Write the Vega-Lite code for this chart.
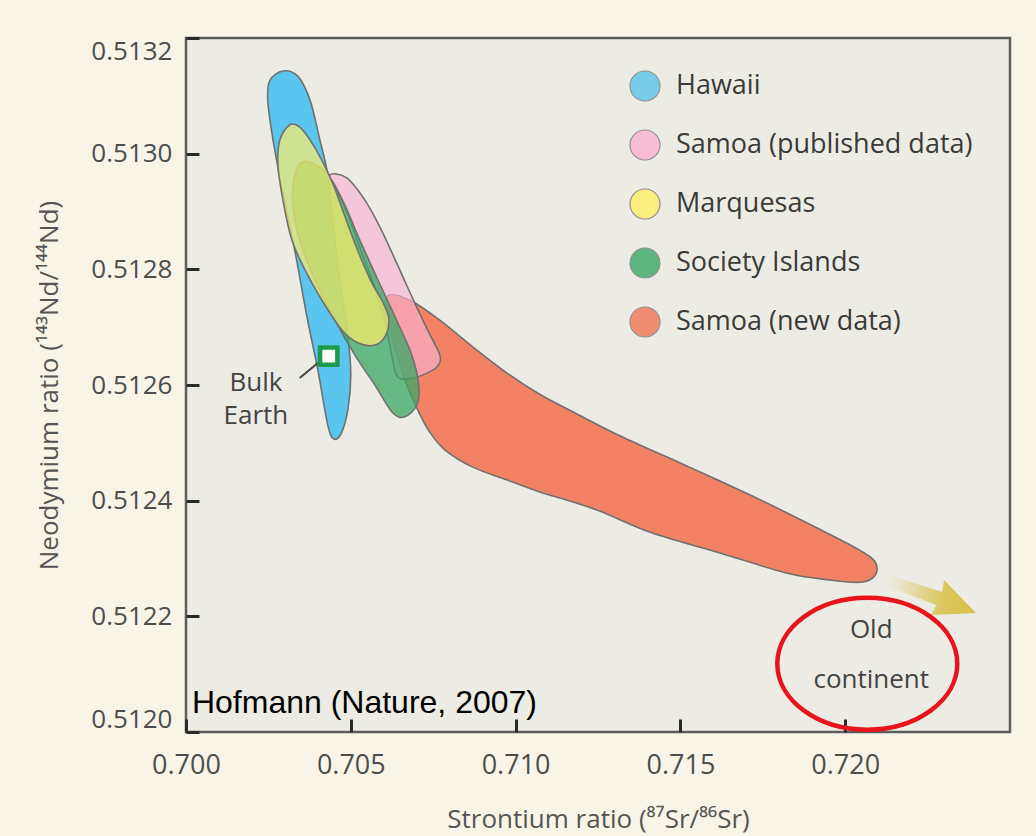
{
  "$schema": "https://vega.github.io/schema/vega-lite/v6.json",
  "width": 824,
  "height": 694,
  "autosize": {"type": "none"},
  "padding": {"left": 186, "top": 38, "right": 26, "bottom": 104},
  "background": "#f8f5e8",
  "config": {
    "view": {"fill": "#edece4", "stroke": "#5c5c5c", "strokeWidth": 2.5},
    "font": "Open Sans",
    "axis": {
      "grid": false,
      "domain": false,
      "tickSize": -13,
      "tickWidth": 3,
      "tickColor": "#2a2a2a",
      "labelFont": "Open Sans",
      "labelColor": "#4d4d4d",
      "labelOverlap": false,
      "titleFont": "Open Sans",
      "titleFontSize": 26,
      "titleFontWeight": "normal",
      "titleColor": "#555555"
    },
    "legend": {
      "orient": "none",
      "legendX": 443,
      "legendY": 32,
      "padding": 0,
      "symbolType": "circle",
      "symbolSize": 900,
      "symbolStrokeColor": "#7a7a7a",
      "symbolStrokeWidth": 1.2,
      "symbolOpacity": 0.8,
      "labelFont": "Open Sans",
      "labelFontSize": 27,
      "labelColor": "#3a3a3a",
      "labelOffset": 15,
      "rowPadding": 23,
      "labelLimit": 400
    }
  },
  "layer": [
    {
      "data": {"values": [
        {"region": "Hawaii", "i": 1, "sr": 0.70294, "nd": 0.513143},
        {"region": "Hawaii", "i": 2, "sr": 0.70339, "nd": 0.513134},
        {"region": "Hawaii", "i": 3, "sr": 0.70376, "nd": 0.513093},
        {"region": "Hawaii", "i": 4, "sr": 0.70406, "nd": 0.513024},
        {"region": "Hawaii", "i": 5, "sr": 0.70430, "nd": 0.512963},
        {"region": "Hawaii", "i": 6, "sr": 0.70448, "nd": 0.512868},
        {"region": "Hawaii", "i": 7, "sr": 0.70470, "nd": 0.512764},
        {"region": "Hawaii", "i": 8, "sr": 0.70491, "nd": 0.512686},
        {"region": "Hawaii", "i": 9, "sr": 0.70500, "nd": 0.512617},
        {"region": "Hawaii", "i": 10, "sr": 0.70491, "nd": 0.512557},
        {"region": "Hawaii", "i": 11, "sr": 0.70470, "nd": 0.512515},
        {"region": "Hawaii", "i": 12, "sr": 0.70448, "nd": 0.512507},
        {"region": "Hawaii", "i": 13, "sr": 0.70430, "nd": 0.512531},
        {"region": "Hawaii", "i": 14, "sr": 0.70400, "nd": 0.512626},
        {"region": "Hawaii", "i": 15, "sr": 0.70367, "nd": 0.512718},
        {"region": "Hawaii", "i": 16, "sr": 0.70330, "nd": 0.512833},
        {"region": "Hawaii", "i": 17, "sr": 0.70294, "nd": 0.512932},
        {"region": "Hawaii", "i": 18, "sr": 0.70264, "nd": 0.513024},
        {"region": "Hawaii", "i": 19, "sr": 0.70248, "nd": 0.513093},
        {"region": "Hawaii", "i": 20, "sr": 0.70255, "nd": 0.513127}
      ]},
      "mark": {"type": "line", "interpolate": "cardinal-closed", "fillOpacity": 1, "stroke": "#707070", "strokeWidth": 1.6},
      "encoding": {
        "x": {"field": "sr", "type": "quantitative", "scale": {"domain": [0.7, 0.725], "zero": false, "nice": false},
          "axis": {"values": [0.7, 0.705, 0.71, 0.715, 0.72], "format": ".3f", "title": "Strontium ratio (⁸⁷Sr/⁸⁶Sr)", "labelFontSize": 27, "labelPadding": 33, "labelFlush": false, "titlePadding": 28}},
        "y": {"field": "nd", "type": "quantitative", "scale": {"domain": [0.512, 0.5132], "zero": false, "nice": false},
          "axis": {"values": [0.512, 0.5122, 0.5124, 0.5126, 0.5128, 0.513, 0.5132], "format": ".4f", "title": "Neodymium ratio (¹⁴³Nd/¹⁴⁴Nd)", "labelFontSize": 26, "labelPadding": 27, "labelFlush": true, "titlePadding": 28}},
        "order": {"field": "i", "type": "quantitative"},
        "fill": {"field": "region", "type": "nominal",
          "scale": {"domain": ["Hawaii", "Samoa (published data)", "Marquesas", "Society Islands", "Samoa (new data)"],
                    "range": ["#5ac5ef", "#f9b2d2", "#ffef69", "#38a863", "#f37654"]},
          "legend": {"title": null}}
      }
    },
    {
      "data": {"values": [
        {"region": "Samoa (new data)", "i": 1, "sr": 0.70618, "nd": 0.512756},
        {"region": "Samoa (new data)", "i": 2, "sr": 0.70688, "nd": 0.512744},
        {"region": "Samoa (new data)", "i": 3, "sr": 0.70770, "nd": 0.512712},
        {"region": "Samoa (new data)", "i": 4, "sr": 0.70870, "nd": 0.512666},
        {"region": "Samoa (new data)", "i": 5, "sr": 0.70973, "nd": 0.512621},
        {"region": "Samoa (new data)", "i": 6, "sr": 0.71073, "nd": 0.512584},
        {"region": "Samoa (new data)", "i": 7, "sr": 0.71179, "nd": 0.512552},
        {"region": "Samoa (new data)", "i": 8, "sr": 0.71324, "nd": 0.512510},
        {"region": "Samoa (new data)", "i": 9, "sr": 0.71527, "nd": 0.512458},
        {"region": "Samoa (new data)", "i": 10, "sr": 0.71718, "nd": 0.512408},
        {"region": "Samoa (new data)", "i": 11, "sr": 0.71921, "nd": 0.512351},
        {"region": "Samoa (new data)", "i": 12, "sr": 0.72042, "nd": 0.512315},
        {"region": "Samoa (new data)", "i": 13, "sr": 0.72091, "nd": 0.512294},
        {"region": "Samoa (new data)", "i": 14, "sr": 0.72091, "nd": 0.512271},
        {"region": "Samoa (new data)", "i": 15, "sr": 0.72048, "nd": 0.512259},
        {"region": "Samoa (new data)", "i": 16, "sr": 0.71952, "nd": 0.512263},
        {"region": "Samoa (new data)", "i": 17, "sr": 0.71821, "nd": 0.512275},
        {"region": "Samoa (new data)", "i": 18, "sr": 0.71618, "nd": 0.512310},
        {"region": "Samoa (new data)", "i": 19, "sr": 0.71415, "nd": 0.512344},
        {"region": "Samoa (new data)", "i": 20, "sr": 0.71255, "nd": 0.512382},
        {"region": "Samoa (new data)", "i": 21, "sr": 0.71155, "nd": 0.512401},
        {"region": "Samoa (new data)", "i": 22, "sr": 0.71073, "nd": 0.512415},
        {"region": "Samoa (new data)", "i": 23, "sr": 0.70973, "nd": 0.512436},
        {"region": "Samoa (new data)", "i": 24, "sr": 0.70870, "nd": 0.512458},
        {"region": "Samoa (new data)", "i": 25, "sr": 0.70785, "nd": 0.512488},
        {"region": "Samoa (new data)", "i": 26, "sr": 0.70739, "nd": 0.512519},
        {"region": "Samoa (new data)", "i": 27, "sr": 0.70703, "nd": 0.512557},
        {"region": "Samoa (new data)", "i": 28, "sr": 0.70664, "nd": 0.512609},
        {"region": "Samoa (new data)", "i": 29, "sr": 0.70627, "nd": 0.512678},
        {"region": "Samoa (new data)", "i": 30, "sr": 0.70603, "nd": 0.512730}
      ]},
      "mark": {"type": "line", "interpolate": "cardinal-closed", "fillOpacity": 0.9, "stroke": "#707070", "strokeWidth": 1.6},
      "encoding": {
        "x": {"field": "sr", "type": "quantitative"},
        "y": {"field": "nd", "type": "quantitative"},
        "order": {"field": "i", "type": "quantitative"},
        "fill": {"field": "region", "type": "nominal"}
      }
    },
    {
      "data": {"values": [
        {"region": "Samoa (published data)", "i": 1, "sr": 0.70436, "nd": 0.512963},
        {"region": "Samoa (published data)", "i": 2, "sr": 0.70488, "nd": 0.512958},
        {"region": "Samoa (published data)", "i": 3, "sr": 0.70548, "nd": 0.512915},
        {"region": "Samoa (published data)", "i": 4, "sr": 0.70597, "nd": 0.512863},
        {"region": "Samoa (published data)", "i": 5, "sr": 0.70658, "nd": 0.512787},
        {"region": "Samoa (published data)", "i": 6, "sr": 0.70694, "nd": 0.512742},
        {"region": "Samoa (published data)", "i": 7, "sr": 0.70733, "nd": 0.512695},
        {"region": "Samoa (published data)", "i": 8, "sr": 0.70770, "nd": 0.512652},
        {"region": "Samoa (published data)", "i": 9, "sr": 0.70764, "nd": 0.512633},
        {"region": "Samoa (published data)", "i": 10, "sr": 0.70733, "nd": 0.512621},
        {"region": "Samoa (published data)", "i": 11, "sr": 0.70685, "nd": 0.512612},
        {"region": "Samoa (published data)", "i": 12, "sr": 0.70642, "nd": 0.512614},
        {"region": "Samoa (published data)", "i": 13, "sr": 0.70624, "nd": 0.512652},
        {"region": "Samoa (published data)", "i": 14, "sr": 0.70603, "nd": 0.512712},
        {"region": "Samoa (published data)", "i": 15, "sr": 0.70576, "nd": 0.512764},
        {"region": "Samoa (published data)", "i": 16, "sr": 0.70530, "nd": 0.512833},
        {"region": "Samoa (published data)", "i": 17, "sr": 0.70491, "nd": 0.512894},
        {"region": "Samoa (published data)", "i": 18, "sr": 0.70458, "nd": 0.512937}
      ]},
      "mark": {"type": "line", "interpolate": "cardinal-closed", "fillOpacity": 0.65, "stroke": "#707070", "strokeWidth": 1.6},
      "encoding": {
        "x": {"field": "sr", "type": "quantitative"},
        "y": {"field": "nd", "type": "quantitative"},
        "order": {"field": "i", "type": "quantitative"},
        "fill": {"field": "region", "type": "nominal"}
      }
    },
    {
      "data": {"values": [
        {"region": "Society Islands", "i": 1, "sr": 0.70355, "nd": 0.512986},
        {"region": "Society Islands", "i": 2, "sr": 0.70400, "nd": 0.512979},
        {"region": "Society Islands", "i": 3, "sr": 0.70442, "nd": 0.512954},
        {"region": "Society Islands", "i": 4, "sr": 0.70482, "nd": 0.512911},
        {"region": "Society Islands", "i": 5, "sr": 0.70527, "nd": 0.512851},
        {"region": "Society Islands", "i": 6, "sr": 0.70582, "nd": 0.512782},
        {"region": "Society Islands", "i": 7, "sr": 0.70639, "nd": 0.512712},
        {"region": "Society Islands", "i": 8, "sr": 0.70685, "nd": 0.512652},
        {"region": "Society Islands", "i": 9, "sr": 0.70706, "nd": 0.512600},
        {"region": "Society Islands", "i": 10, "sr": 0.70700, "nd": 0.512565},
        {"region": "Society Islands", "i": 11, "sr": 0.70664, "nd": 0.512545},
        {"region": "Society Islands", "i": 12, "sr": 0.70627, "nd": 0.512552},
        {"region": "Society Islands", "i": 13, "sr": 0.70573, "nd": 0.512600},
        {"region": "Society Islands", "i": 14, "sr": 0.70512, "nd": 0.512652},
        {"region": "Society Islands", "i": 15, "sr": 0.70452, "nd": 0.512712},
        {"region": "Society Islands", "i": 16, "sr": 0.70391, "nd": 0.512782},
        {"region": "Society Islands", "i": 17, "sr": 0.70345, "nd": 0.512851},
        {"region": "Society Islands", "i": 18, "sr": 0.70324, "nd": 0.512911},
        {"region": "Society Islands", "i": 19, "sr": 0.70330, "nd": 0.512963}
      ]},
      "mark": {"type": "line", "interpolate": "cardinal-closed", "fillOpacity": 0.75, "stroke": "#707070", "strokeWidth": 1.6},
      "encoding": {
        "x": {"field": "sr", "type": "quantitative"},
        "y": {"field": "nd", "type": "quantitative"},
        "order": {"field": "i", "type": "quantitative"},
        "fill": {"field": "region", "type": "nominal"}
      }
    },
    {
      "data": {"values": [
        {"region": "Marquesas", "i": 1, "sr": 0.70315, "nd": 0.513050},
        {"region": "Marquesas", "i": 2, "sr": 0.70285, "nd": 0.513024},
        {"region": "Marquesas", "i": 3, "sr": 0.70279, "nd": 0.512980},
        {"region": "Marquesas", "i": 4, "sr": 0.70294, "nd": 0.512920},
        {"region": "Marquesas", "i": 5, "sr": 0.70321, "nd": 0.512851},
        {"region": "Marquesas", "i": 6, "sr": 0.70361, "nd": 0.512799},
        {"region": "Marquesas", "i": 7, "sr": 0.70412, "nd": 0.512747},
        {"region": "Marquesas", "i": 8, "sr": 0.70473, "nd": 0.512695},
        {"region": "Marquesas", "i": 9, "sr": 0.70521, "nd": 0.512673},
        {"region": "Marquesas", "i": 10, "sr": 0.70573, "nd": 0.512669},
        {"region": "Marquesas", "i": 11, "sr": 0.70606, "nd": 0.512686},
        {"region": "Marquesas", "i": 12, "sr": 0.70615, "nd": 0.512716},
        {"region": "Marquesas", "i": 13, "sr": 0.70594, "nd": 0.512747},
        {"region": "Marquesas", "i": 14, "sr": 0.70567, "nd": 0.512773},
        {"region": "Marquesas", "i": 15, "sr": 0.70533, "nd": 0.512816},
        {"region": "Marquesas", "i": 16, "sr": 0.70503, "nd": 0.512859},
        {"region": "Marquesas", "i": 17, "sr": 0.70473, "nd": 0.512906},
        {"region": "Marquesas", "i": 18, "sr": 0.70445, "nd": 0.512949},
        {"region": "Marquesas", "i": 19, "sr": 0.70412, "nd": 0.512989},
        {"region": "Marquesas", "i": 20, "sr": 0.70376, "nd": 0.513024},
        {"region": "Marquesas", "i": 21, "sr": 0.70345, "nd": 0.513046}
      ]},
      "mark": {"type": "line", "interpolate": "cardinal-closed", "fillOpacity": 0.7, "stroke": "#707070", "strokeWidth": 1.6},
      "encoding": {
        "x": {"field": "sr", "type": "quantitative"},
        "y": {"field": "nd", "type": "quantitative"},
        "order": {"field": "i", "type": "quantitative"},
        "fill": {"field": "region", "type": "nominal"}
      }
    },
    {
      "data": {"values": [
        {"i": 1, "sr": 0.721333, "nd": 0.5122715},
        {"i": 2, "sr": 0.722939, "nd": 0.5122421},
        {"i": 3, "sr": 0.723000, "nd": 0.5122628},
        {"i": 4, "sr": 0.723970, "nd": 0.5122058},
        {"i": 5, "sr": 0.722606, "nd": 0.5122023},
        {"i": 6, "sr": 0.722758, "nd": 0.5122196},
        {"i": 7, "sr": 0.721333, "nd": 0.5122507}
      ]},
      "mark": {"type": "line", "interpolate": "linear-closed", "strokeOpacity": 0,
        "fill": {"gradient": "linear", "x1": 0, "y1": 0, "x2": 1, "y2": 0,
          "stops": [{"offset": 0, "color": "rgba(216,192,74,0)"}, {"offset": 0.6, "color": "rgba(216,192,74,0.85)"}, {"offset": 1, "color": "#d8c04a"}]}},
      "encoding": {
        "x": {"field": "sr", "type": "quantitative"},
        "y": {"field": "nd", "type": "quantitative"},
        "order": {"field": "i", "type": "quantitative"}
      }
    },
    {
      "data": {"values": [{"sr": 0.70345, "nd": 0.512612, "sr2": 0.70400, "nd2": 0.512638}]},
      "mark": {"type": "rule", "color": "#444444", "strokeWidth": 2},
      "encoding": {
        "x": {"field": "sr", "type": "quantitative"},
        "y": {"field": "nd", "type": "quantitative"},
        "x2": {"field": "sr2"},
        "y2": {"field": "nd2"}
      }
    },
    {
      "data": {"values": [{"sr": 0.70433, "nd": 0.512650}]},
      "mark": {"type": "point", "shape": "square", "size": 300, "filled": true, "fill": "#ffffff", "stroke": "#1f9a4c", "strokeWidth": 4.5, "opacity": 1},
      "encoding": {
        "x": {"field": "sr", "type": "quantitative"},
        "y": {"field": "nd", "type": "quantitative"}
      }
    },
    {
      "data": {"values": [{"sr": 0.70212, "nd": 0.512590, "label": "Bulk\nEarth"}]},
      "mark": {"type": "text", "font": "Open Sans", "fontSize": 26, "align": "center", "baseline": "alphabetic", "lineBreak": "\n", "lineHeight": 33, "color": "#444444"},
      "encoding": {
        "x": {"field": "sr", "type": "quantitative"},
        "y": {"field": "nd", "type": "quantitative"},
        "text": {"field": "label"}
      }
    },
    {
      "data": {"values": [{"sr": 0.72079, "nd": 0.512163, "label": "Old\ncontinent"}]},
      "mark": {"type": "text", "font": "Open Sans", "fontSize": 26, "align": "center", "baseline": "alphabetic", "lineBreak": "\n", "lineHeight": 50, "color": "#444444"},
      "encoding": {
        "x": {"field": "sr", "type": "quantitative"},
        "y": {"field": "nd", "type": "quantitative"},
        "text": {"field": "label"}
      }
    },
    {
      "data": {"values": [{"sr": 0.72067, "nd": 0.512118}]},
      "mark": {"type": "point", "shape": "M-1,0A1,0.733,0,1,1,1,0A1,0.733,0,1,1,-1,0Z", "size": 32400, "filled": false, "stroke": "#e8141c", "strokeWidth": 4.5, "opacity": 1},
      "encoding": {
        "x": {"field": "sr", "type": "quantitative"},
        "y": {"field": "nd", "type": "quantitative"}
      }
    },
    {
      "data": {"values": [{"sr": 0.70018, "nd": 0.512033, "label": "Hofmann (Nature, 2007)"}]},
      "mark": {"type": "text", "font": "Liberation Sans", "fontSize": 32, "align": "left", "baseline": "alphabetic", "color": "#000000"},
      "encoding": {
        "x": {"field": "sr", "type": "quantitative"},
        "y": {"field": "nd", "type": "quantitative"},
        "text": {"field": "label"}
      }
    }
  ]
}
